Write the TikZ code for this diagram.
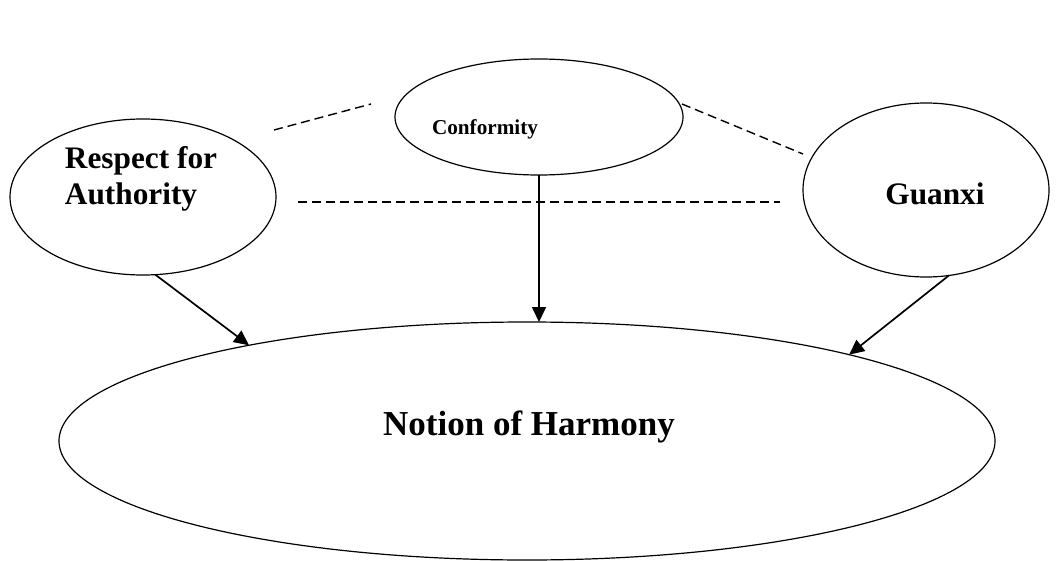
\documentclass[tikz,border=0pt]{standalone}
\usepackage{fontspec}
\setmainfont{Liberation Serif}
\usetikzlibrary{shapes, positioning, arrows.meta}

\begin{document}
\begin{tikzpicture}[x=1pt, y=-1pt, line width=1.2pt]
\tikzset{bubble/.style={shape=ellipse, draw=black, fill=white, inner sep=0pt, outer sep=0pt},
	word/.style={font=\bfseries\fontsize{#1}{36}\selectfont, inner sep=0pt},
	arr/.style={line width=1.7pt, -{Triangle[length=15pt, width=14pt]}},
	dashlink/.style={line width=1.4pt, dash pattern=on 9pt off 5pt}}
\useasboundingbox (0,0) rectangle (1056,561);
\node[bubble, minimum width=266pt, minimum height=156pt] (ra) at (143,197) {};
\node[bubble, minimum width=288pt, minimum height=116pt] (co) at (539,117) {};
\node[bubble, minimum width=246pt, minimum height=174pt] (gx) at (926,190) {};
\node[bubble, minimum width=936pt, minimum height=238pt] (nh) at (527,441) {};
\node[word=31.3, align=left] (ra-txt) at (141,179) {Respect for\\Authority};
\node[word=21.2, anchor=base] (co-txt) at (485,135) {Conformity};
\node[word=31.3, anchor=base] (gx-txt) at (935,205) {Guanxi};
\node[word=35, anchor=base] (nh-txt) at (529,435) {Notion of Harmony};
% arrows into the harmony ellipse
\draw[arr] (ra.-81) -- (nh.161);
\draw[arr] (co.south) -- (co.south |- nh.north);
\draw[arr] (gx.-75) -- (nh.15);
% dashed links
\coordinate (d1) at (274,130); \coordinate (d2) at (371,104);
\coordinate (d3) at (682,104); \coordinate (d4) at (803,154);
\coordinate (d5) at (298,202); \coordinate (d6) at (780,202);
\draw[dashlink] (d1) -- (d2);
\draw[dashlink] (d3) -- (d4);
\draw[dashlink] (d5) -- (d6);
\end{tikzpicture}
\end{document}
